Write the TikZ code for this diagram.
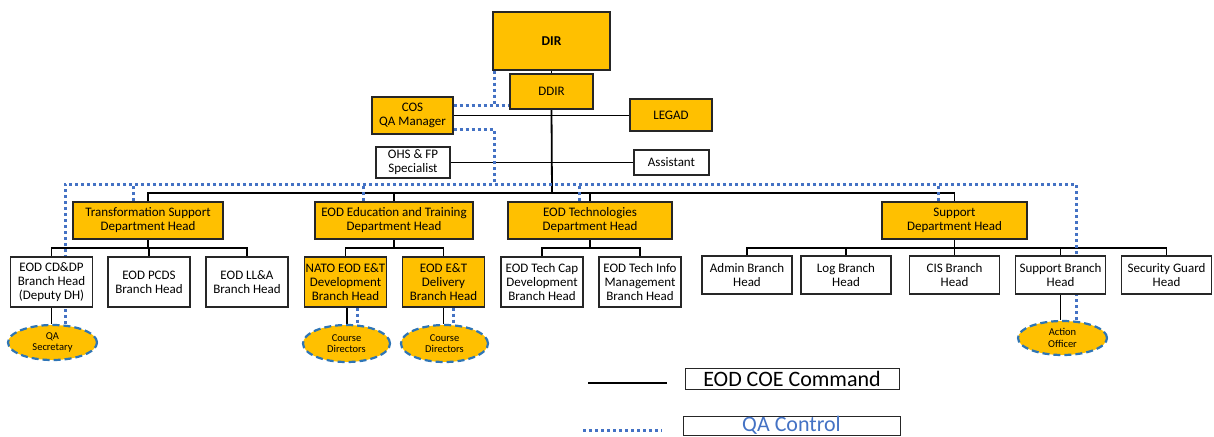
\documentclass[tikz,border=0pt]{standalone}
\usepackage{fontspec}
\setmainfont{Carlito}
\usetikzlibrary{shapes.geometric,backgrounds,calc}
\definecolor{gold}{HTML}{FFC000}
\definecolor{qablue}{HTML}{4472C4}
\definecolor{elblue}{HTML}{2E75B6}
\begin{document}
\begin{tikzpicture}[x=1pt,y=-1pt,
  box/.style={draw=black!85,line width=1.1pt,fill=white,align=center,inner sep=0pt,font=\fontsize{13}{14}\selectfont},
  obox/.style={box,fill=gold},
  dept/.style={obox,minimum height=37pt},
  brw/.style={box,minimum width=82pt,minimum height=50pt},
  bro/.style={brw,fill=gold},
  brs/.style={box,minimum width=90pt,minimum height=38pt},
  ell/.style={ellipse,draw=elblue,line width=2.2pt,dash pattern=on 7pt off 4pt,fill=gold,inner sep=0pt,align=center,font=\fontsize{10.5}{11.7}\selectfont},
  cmd/.style={draw=black,line width=1.2pt},
  qa/.style={draw=qablue,line width=3pt,dash pattern=on 3pt off 3pt},
  lgbox/.style={draw=black!85,line width=1pt,inner sep=0pt,font=\fontsize{22}{24}\selectfont}
]
\useasboundingbox (0,0) rectangle (1214,436);
% top
\node[obox,minimum width=117pt,minimum height=58pt,font=\fontsize{13.5}{15}\selectfont\bfseries] (dir) at (551.5,41) {DIR};
\node[obox,minimum width=83pt,minimum height=35pt] (ddir) at (551.5,91.5) {DDIR};
\node[obox,minimum width=81pt,minimum height=37pt] (cos) at (412.5,115.5) {COS\\QA Manager};
\node[obox,minimum width=82pt,minimum height=32pt] (legad) at (671,115) {LEGAD};
\node[box,minimum width=74pt,minimum height=31pt] (ohs) at (413,162.5) {OHS \& FP\\Specialist};
\node[box,minimum width=75pt,minimum height=25pt] (asst) at (671.5,162.5) {Assistant};
% departments
\node[dept,minimum width=150pt] (ts) at (148,220.5) {Transformation Support\\Department Head};
\node[dept,minimum width=158pt] (edu) at (394,220.5) {EOD Education and Training\\Department Head};
\node[dept,minimum width=164pt] (tech) at (590,220.5) {EOD Technologies\\Department Head};
\node[dept,minimum width=145pt] (sup) at (954.5,220.5) {Support\\Department Head};
% branches
\node[brw] (cddp) at (51.5,282) {EOD CD\&DP\\Branch Head\\(Deputy DH)};
\node[brw] (pcds) at (149,282) {EOD PCDS\\Branch Head};
\node[brw] (lla) at (247,282) {EOD LL\&A\\Branch Head};
\node[bro] (nato) at (345.5,282) {NATO EOD E\&T\\Development\\Branch Head};
\node[bro] (deliv) at (443.5,282) {EOD E\&T\\Delivery\\Branch Head};
\node[brw] (tcap) at (542,282) {EOD Tech Cap\\Development\\Branch Head};
\node[brw] (tinfo) at (640,282) {EOD Tech Info\\Management\\Branch Head};
\node[brs] (admin) at (747,275) {Admin Branch\\Head};
\node[brs] (log) at (846,275) {Log Branch\\Head};
\node[brs] (cis) at (954.5,275) {CIS Branch\\Head};
\node[brs] (supbr) at (1060.5,275) {Support Branch\\Head};
\node[brs] (sec) at (1166.5,275) {Security Guard\\Head};
% ellipses
\node[ell,minimum width=89pt,minimum height=35pt] (qas) at (52.5,342.5) {QA\\Secretary};
\node[ell,minimum width=87pt,minimum height=37pt] (cd1) at (346.5,343.5) {Course\\Directors};
\node[ell,minimum width=87pt,minimum height=37pt] (cd2) at (444.5,343.5) {Course\\Directors};
\node[ell,minimum width=89pt,minimum height=34pt] (ao) at (1062.5,338) {Action\\Officer};
% legend
\node[lgbox,minimum width=214pt,minimum height=21pt] (lg1) at (792,378.5) {EOD COE Command};
\node[lgbox,minimum width=217pt,minimum height=19pt,text=qablue] (lg2) at (791.5,425.5) {QA Control};
\coordinate (l1a) at (588,383);
\coordinate (l1b) at (667,383);
\coordinate (l2a) at (583,430);
\coordinate (l2b) at (662,430);
\draw[cmd,line width=1.5pt] (l1a) -- (l1b);
\draw[qa] (l2a) -- (l2b);

\begin{scope}[on background layer]
% command lines
\coordinate (bus) at (552,193);
\coordinate (sb) at (0,248);
\draw[cmd] (dir.south) -- (ddir.north);
\draw[cmd,line width=1.8pt] (ddir.south) -- (bus);
\draw[cmd] (ts.north) -- (ts.north |- bus) -- (sup.north |- bus) -- (sup.north);
\draw[cmd] (edu.north) -- (edu.north |- bus);
\draw[cmd] (tech.north) -- (tech.north |- bus);
\draw[cmd] (cos.east) -- (cos.east -| legad.west);
\draw[cmd] (ohs.east) -- (asst.west);
\draw[cmd] (ts.south) -- (ts.south |- sb);
\draw[cmd] (cddp.north) -- (cddp.north |- sb) -- (lla.north |- sb) -- (lla.north);
\draw[cmd] (pcds.north) -- (pcds.north |- sb);
\draw[cmd] (edu.south) -- (edu.south |- sb);
\draw[cmd] (nato.north) -- (nato.north |- sb) -- (deliv.north |- sb) -- (deliv.north);
\draw[cmd] (tech.south) -- (tech.south |- sb);
\draw[cmd] (tcap.north) -- (tcap.north |- sb) -- (tinfo.north |- sb) -- (tinfo.north);
\draw[cmd] (sup.south) -- (sup.south |- sb);
\draw[cmd] (admin.north) -- (admin.north |- sb) -- (sec.north |- sb) -- (sec.north);
\draw[cmd] (log.north) -- (log.north |- sb);
\draw[cmd] (cis.north) -- (cis.north |- sb);
\draw[cmd] (supbr.north) -- (supbr.north |- sb);
\draw[cmd] (cddp.south) -- (cddp.south |- qas.north);
\draw[cmd] ([xshift=1.5pt]nato.south) -- ([xshift=1.5pt]nato.south |- cd1.north);
\draw[cmd] (deliv.south) -- (deliv.south |- cd2.north);
\draw[cmd] (supbr.south) -- (supbr.south |- ao.north);
% QA control lines
\coordinate (q1) at (494,105);
\coordinate (q2) at (494,129.5);
\coordinate (qL) at (65,184);
\coordinate (qR) at (1076,184);
\draw[qa] (q1 |- dir.south) -- (q1);
\draw[qa] (q1 -| cos.east) -- (q1 -| ddir.west);
\draw[qa] (q2 -| cos.east) -- (q2) -- (q2 |- qL);
\draw[qa] (qL |- qas.north) -- (qL) -- (qR) -- (qR |- ao.north);
\path (ts.north) ++(-15,0) coordinate (t1);
\path (edu.north) ++(-30.5,0) coordinate (t2);
\path (tech.north) ++(-11,0) coordinate (t3);
\path (sup.north) ++(-16.5,0) coordinate (t4);
\draw[qa] (t1) -- (t1 |- qL);
\draw[qa] (t2) -- (t2 |- qL);
\draw[qa] (t3) -- (t3 |- qL);
\draw[qa] (t4) -- (t4 |- qL);
\path (nato.south) ++(11.5,0) coordinate (n1);
\path (deliv.south) ++(9.5,0) coordinate (n2);
\draw[qa] (n1) -- (n1 |- cd1.north);
\draw[qa] (n2) -- (n2 |- cd2.north);
\end{scope}
\end{tikzpicture}
\end{document}
